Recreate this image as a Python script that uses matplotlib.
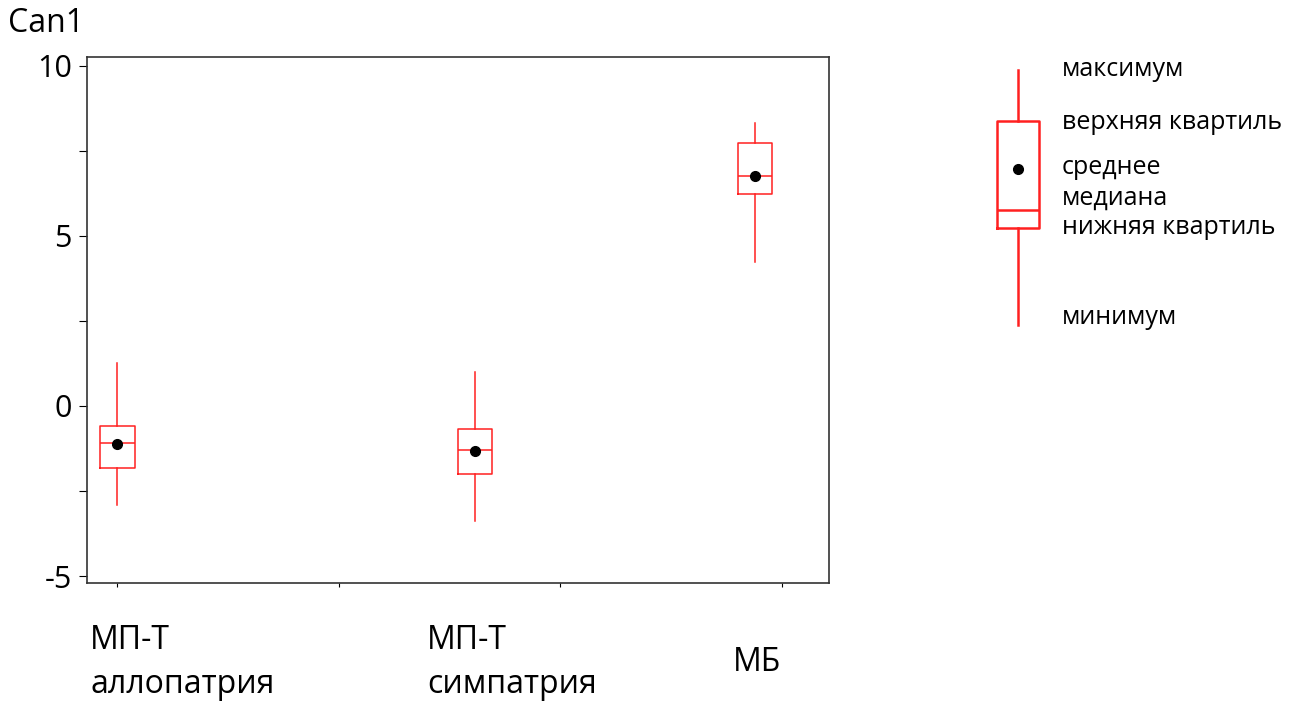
import matplotlib.pyplot as plt
from matplotlib.transforms import blended_transform_factory

plt.rcParams['font.family'] = ['Open Sans', 'DejaVu Sans']
plt.rcParams['axes.unicode_minus'] = False

# Can1 summary per group
groups = ['МП-Т\nаллопатрия', 'МП-Т\nсимпатрия', 'МБ']
positions = [0.0, 1.615, 2.879]
whislo = [-2.91, -3.38, 4.24]
q1 = [-1.82, -2.01, 6.23]
medians = [-1.10, -1.29, 6.77]
means = [-1.12, -1.33, 6.76]
q3 = [-0.59, -0.69, 7.72]
whishi = [1.26, 0.99, 8.33]

# schematic legend box
key_names = ['минимум', 'нижняя квартиль', 'медиана', 'среднее', 'верхняя квартиль', 'максимум']
key_values = [0.0, 3.8, 4.5, 6.1, 8.0, 10.0]

stats = []
for i in range(len(groups)):
    stats.append({'whislo': whislo[i], 'q1': q1[i], 'med': medians[i], 'mean': means[i],
                  'q3': q3[i], 'whishi': whishi[i], 'fliers': []})

fig = plt.figure(figsize=(12.98, 7.06), dpi=100)
ax = fig.add_axes([0.067, 0.174, 0.5717, 0.7457])

red = '#ff2020'
ax.bxp(stats, positions=positions, widths=0.157, showcaps=False, showmeans=True,
       boxprops=dict(color=red, linewidth=1.1),
       whiskerprops=dict(color=red, linewidth=1.1),
       medianprops=dict(color=red, linewidth=1.1),
       meanprops=dict(marker='o', markerfacecolor='black', markeredgecolor='black', markersize=7))

ax.set_xlim(-0.137, 3.213)
ax.set_ylim(-5.21, 10.27)
ax.set_xticks([0, 1, 2, 3])
ax.set_xticklabels([])
ax.set_yticks([-5, 0, 5, 10])
ax.set_yticks([-2.5, 2.5, 7.5], minor=True)
ax.tick_params(axis='y', which='both', length=6, width=0.8, labelsize=22, pad=5)
ax.tick_params(axis='x', length=3, width=0.8)
for s in ax.spines.values():
    s.set_linewidth(1.2)
    s.set_color('#333333')

trans = blended_transform_factory(ax.transData, ax.transAxes)
label_x = [-0.123, 1.398, 2.780]
for x, name in zip(label_x, groups):
    ax.text(x, -0.151, name, transform=trans, ha='left', va='center',
            fontsize=23, linespacing=1.43)

fig.text(8 / 1298, 1 - 24 / 706, 'Can1', ha='left', va='center', fontsize=23)

# legend key drawn as its own box
lax = fig.add_axes([980 / 1298, 1 - 340 / 706, 318 / 1298, 290 / 706])
lax.axis('off')
key_stats = [{'whislo': key_values[0], 'q1': key_values[1], 'med': key_values[2],
              'mean': key_values[3], 'q3': key_values[4], 'whishi': key_values[5], 'fliers': []}]
lax.bxp(key_stats, positions=[0.12], widths=0.134, showcaps=False, showmeans=True,
        boxprops=dict(color=red, linewidth=1.8),
        whiskerprops=dict(color=red, linewidth=1.8),
        medianprops=dict(color=red, linewidth=1.8),
        meanprops=dict(marker='o', markerfacecolor='black', markeredgecolor='black', markersize=7))
lax.set_xlim(0, 1)
lax.set_ylim(-0.6, 10.77)
nudge = [0.3, 0.02, 0.47, 0.06, -0.08, 0.0]
for name, v, d in zip(key_names, key_values, nudge):
    lax.text(0.257, v + d, name, ha='left', va='center', fontsize=18)

fig.savefig('out.png', dpi=100)
